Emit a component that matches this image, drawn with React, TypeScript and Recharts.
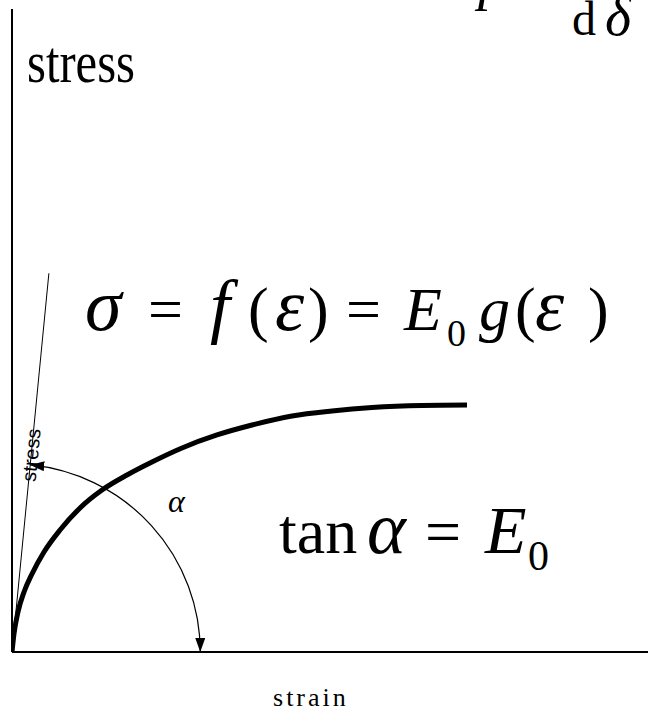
import React from 'react';
import {
  LineChart,
  Line,
  XAxis,
  YAxis,
  ReferenceLine,
  Customized,
} from 'recharts';

// Stress–strain curve sampled along the loading path (strain and stress in chart units)
const strainValues = [0, 0.31, 0.94, 1.89, 3.14, 5.03, 7.55, 10.69, 14.15, 18.08, 22.01, 26.73, 32.23, 37.74, 44.03, 50.31, 56.6, 64.47, 71.54];
const stressValues = [0, 2.8, 6.22, 9.33, 12.13, 15.55, 18.97, 22.4, 25.19, 27.53, 29.55, 31.73, 33.75, 35.3, 36.7, 37.48, 38.02, 38.34, 38.41];

// Initial tangent (slope E0) drawn from the origin
const tangentStart = { strain: 0, stress: 0 };
const tangentEnd = { strain: 5.8, stress: 58.9 };

// Angle arc alpha: from the strain axis up to the tangent
const arcOnAxis = { strain: 29.6, stress: 0 };
const arcOnTangent = { strain: 2.87, stress: 29.1 };

const strainDomain = [0, 100];
const stressDomain = [0, 100];

const axisTitleX = 'strain';
const axisTitleY = 'stress';
const tangentTitle = 'stress';

const curveData = strainValues.map((s, i) => ({ strain: s, stress: stressValues[i] }));

const SERIF = '"Liberation Serif", "Times New Roman", Times, serif';
const SANS = '"Liberation Sans", Arial, Helvetica, sans-serif';

const W = 648;
const H = 712;

function TangentShape(props: any) {
  const { x1, y1, x2, y2 } = props;
  const dx = x2 - x1;
  const dy = y2 - y1;
  const angle = (Math.atan2(dy, dx) * 180) / Math.PI;
  const t = 0.52;
  const lx = x1 + dx * t;
  const ly = y1 + dy * t;
  return (
    <g>
      <line x1={x1} y1={y1} x2={x2} y2={y2} stroke="#000" strokeWidth={1} />
      <text
        x={lx}
        y={ly}
        transform={`rotate(${angle} ${lx} ${ly})`}
        textAnchor="middle"
        dominantBaseline="central"
        fontFamily={SANS}
        fontSize={20}
        fill="#000"
      >
        {tangentTitle}
      </text>
    </g>
  );
}

function AngleArcShape(props: any) {
  const { x1, y1, x2, y2 } = props;
  // centre sits on the strain axis (y = y1), equidistant from both ends
  const ddy = y2 - y1;
  const cx = (x1 * x1 - x2 * x2 - ddy * ddy) / (2 * (x1 - x2));
  const r = x1 - cx;
  const d = `M ${x1} ${y1} A ${r} ${r} 0 0 0 ${x2} ${y2}`;
  return (
    <g>
      <defs>
        <marker
          id="alphaArrow"
          markerUnits="userSpaceOnUse"
          markerWidth={14}
          markerHeight={10}
          refX={14}
          refY={5}
          orient="auto-start-reverse"
        >
          <path d="M0,0 L14,5 L0,10 z" fill="#000" />
        </marker>
      </defs>
      <path
        d={d}
        fill="none"
        stroke="#000"
        strokeWidth={1.2}
        markerStart="url(#alphaArrow)"
        markerEnd="url(#alphaArrow)"
      />
    </g>
  );
}

function StrainTitle(props: any) {
  const { viewBox } = props;
  const cx = viewBox.x + viewBox.width * 0.47;
  return (
    <text
      x={cx}
      y={viewBox.y + 54}
      textAnchor="middle"
      fontFamily={SERIF}
      fontSize={26}
      letterSpacing={3}
      fill="#000"
    >
      {axisTitleX}
    </text>
  );
}

function StressTitle(props: any) {
  const { viewBox } = props;
  return (
    <text
      x={viewBox.x + viewBox.width + 15}
      y={viewBox.y + 73}
      fontFamily={SERIF}
      fontSize={60}
      textLength={108}
      lengthAdjust="spacingAndGlyphs"
      fill="#000"
    >
      {axisTitleY}
    </text>
  );
}

function Formulas() {
  const latin = 62;
  const greek = 74;
  const sub = 38;
  return (
    <g fontFamily={SERIF} fill="#000">
      {/* derivative at the top edge, mostly outside the frame */}
      <text y={-1} fontSize={56}>
        <tspan x={478} fontStyle="italic">p</tspan>
      </text>
      <text y={35} fontSize={48}>
        <tspan x={572}>d</tspan>
        <tspan x={605} fontSize={56} fontStyle="italic">δ</tspan>
      </text>

      {/* constitutive law */}
      <text y={330} fontSize={latin}>
        <tspan x={85} fontSize={greek} fontStyle="italic">σ</tspan>
        <tspan x={148}>=</tspan>
        <tspan x={210} fontSize={72} fontStyle="italic">f</tspan>
        <tspan x={248}>(</tspan>
        <tspan x={275} fontSize={greek} fontStyle="italic">ε</tspan>
        <tspan x={308}>)</tspan>
        <tspan x={346}>=</tspan>
        <tspan x={404} fontStyle="italic">E</tspan>
        <tspan x={447} y={346} fontSize={sub}>0</tspan>
        <tspan x={479} y={330} fontStyle="italic">g</tspan>
        <tspan x={515}>(</tspan>
        <tspan x={535} fontSize={greek} fontStyle="italic">ε</tspan>
        <tspan x={588}>)</tspan>
      </text>

      {/* initial modulus */}
      <text y={553} fontSize={64}>
        <tspan x={279}>tan</tspan>
        <tspan x={367} fontSize={greek} fontStyle="italic">α</tspan>
        <tspan x={425}>=</tspan>
        <tspan x={485} fontSize={68} fontStyle="italic">E</tspan>
        <tspan x={528} y={570} fontSize={42}>0</tspan>
      </text>

      {/* angle marker */}
      <text x={168} y={512} fontSize={32} fontStyle="italic">α</text>
    </g>
  );
}

export default function App() {
  return (
    <div style={{ position: 'absolute', left: 0, top: 0, width: W, height: H, background: '#fff', overflow: 'hidden' }}>
      <LineChart width={W} height={H} data={curveData} margin={{ top: 9, right: 0, bottom: 0, left: 11 }}>
        <XAxis
          type="number"
          dataKey="strain"
          domain={strainDomain}
          allowDataOverflow
          tick={false}
          tickLine={false}
          height={60}
          axisLine={{ stroke: '#000', strokeWidth: 2 }}
          label={<StrainTitle />}
        />
        <YAxis
          type="number"
          dataKey="stress"
          domain={stressDomain}
          allowDataOverflow
          tick={false}
          tickLine={false}
          width={1}
          axisLine={{ stroke: '#000', strokeWidth: 2 }}
          label={<StressTitle />}
        />
        <ReferenceLine
          segment={[
            { x: tangentStart.strain, y: tangentStart.stress },
            { x: tangentEnd.strain, y: tangentEnd.stress },
          ]}
          shape={<TangentShape />}
          ifOverflow="visible"
        />
        <ReferenceLine
          segment={[
            { x: arcOnAxis.strain, y: arcOnAxis.stress },
            { x: arcOnTangent.strain, y: arcOnTangent.stress },
          ]}
          shape={<AngleArcShape />}
          ifOverflow="visible"
        />
        <Line
          type="monotone"
          dataKey="stress"
          stroke="#000"
          strokeWidth={5}
          dot={false}
          activeDot={false}
          isAnimationActive={false}
        />
        <Customized component={<Formulas />} />
      </LineChart>
    </div>
  );
}
